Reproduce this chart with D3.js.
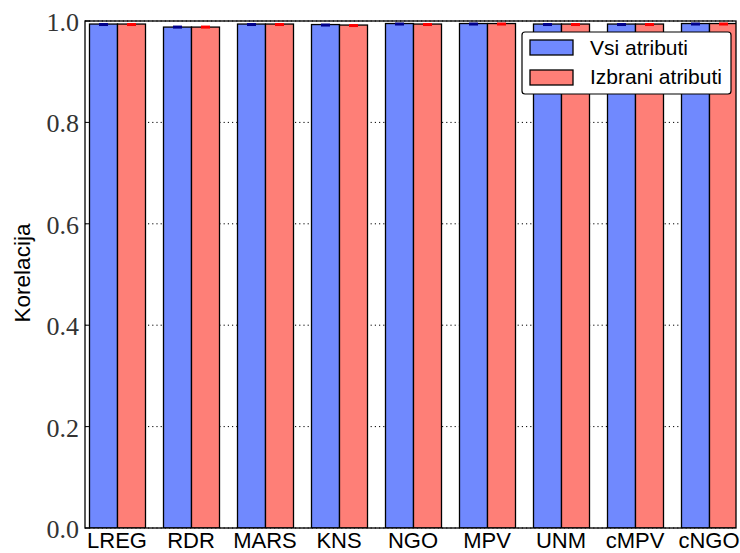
<!DOCTYPE html>
<html><head><meta charset="utf-8">
<script src="https://cdn.jsdelivr.net/npm/d3@7"></script>
<style>body{margin:0;background:#fff}</style>
</head><body><svg id="c" width="740" height="553"></svg>
<script>
const categories = ["LREG","RDR","MARS","KNS","NGO","MPV","UNM","cMPV","cNGO"];
const seriesNames = ["Vsi atributi","Izbrani atributi"];
const vsiValues = [0.994,0.988,0.994,0.993,0.995,0.995,0.994,0.994,0.995];
const izbValues = [0.994,0.988,0.994,0.992,0.994,0.995,0.994,0.994,0.995];
const vsiErr = [0.002,0.003,0.002,0.002,0.002,0.002,0.002,0.002,0.002];
const izbErr = [0.002,0.003,0.002,0.002,0.002,0.002,0.002,0.002,0.002];
const yTicks = [0.0,0.2,0.4,0.6,0.8,1.0];

const svg = d3.select("#c");
const L = 85, R = 736, T = 21, B = 528;
const y = d3.scaleLinear().domain([0,1]).range([B,T]);
const x = d3.scaleBand().domain(categories).range([89, 89+9*74-18]).paddingInner(18/74).paddingOuter(0);
const xs = d3.scaleBand().domain([0,1]).range([0, x.bandwidth()]);
const colors = ["#7089fe","#fe7f77"];
const errColors = ["#00008b","#ff0000"];

svg.append("defs").append("clipPath").attr("id","clip")
  .append("rect").attr("x",L).attr("y",T-5).attr("width",R-L).attr("height",B-T+5);

// grid
svg.append("g").selectAll("line").data(yTicks).join("line")
  .attr("x1",L).attr("x2",R).attr("y1",d=>y(d)).attr("y2",d=>y(d))
  .attr("stroke","#000").attr("stroke-width",1).attr("stroke-dasharray","1.2,3");

const data = categories.map((c,i)=>({c, vals:[vsiValues[i],izbValues[i]], errs:[vsiErr[i],izbErr[i]]}));
const g = svg.append("g").attr("clip-path","url(#clip)");
const grp = g.selectAll("g").data(data).join("g").attr("transform",d=>`translate(${x(d.c)},0)`);
grp.selectAll("rect.bar").data(d=>d.vals.map((v,k)=>({v,k,e:d.errs[k]}))).join("rect")
  .attr("class","bar")
  .attr("x",d=>xs(d.k)+0.5).attr("width",xs.bandwidth())
  .attr("y",d=>y(d.v)).attr("height",d=>y(0)-y(d.v))
  .attr("fill",d=>colors[d.k]).attr("stroke","#000").attr("stroke-width",1.3);
grp.selectAll("rect.err").data(d=>d.vals.map((v,k)=>({v,k,e:d.errs[k]}))).join("rect")
  .attr("class","err")
  .attr("x",d=>xs(d.k)+xs.bandwidth()/2-4.5+0.5).attr("width",9)
  .attr("y",d=>y(d.v+d.e)).attr("height",d=>Math.max(3,y(d.v-d.e)-y(d.v+d.e)))
  .attr("fill",d=>errColors[d.k]);

// frame
svg.append("rect").attr("x",L).attr("y",T).attr("width",R-L).attr("height",B-T)
  .attr("fill","none").attr("stroke","#000").attr("stroke-width",1.3);

// y ticks
const yt = svg.append("g");
yt.selectAll("line").data(yTicks).join("line")
  .attr("x1",L).attr("x2",L+5).attr("y1",d=>y(d)).attr("y2",d=>y(d)).attr("stroke","#000");
yt.selectAll("text").data(yTicks).join("text")
  .attr("x",79).attr("y",d=>y(d)+10).attr("text-anchor","end")
  .attr("font-family","Liberation Serif, serif").attr("font-size",26).attr("fill","#333")
  .text(d=>d.toFixed(1));

// x labels
svg.append("g").selectAll("text").data(categories).join("text")
  .attr("x",d=>x(d)+x.bandwidth()/2).attr("y",548).attr("text-anchor","middle")
  .attr("font-family","Liberation Sans, Arial, sans-serif").attr("font-size",22).attr("fill","#000")
  .text(d=>d);

// y label
svg.append("text").attr("transform","translate(30,273) rotate(-90)").attr("text-anchor","middle")
  .attr("font-family","Liberation Sans, Arial, sans-serif").attr("font-size",22.5).text("Korelacija");

// legend
const lg = svg.append("g");
lg.append("rect").attr("x",522).attr("y",32).attr("width",209).attr("height",62).attr("rx",3)
  .attr("fill","#fff").attr("stroke","#000").attr("stroke-width",1.2);
seriesNames.forEach((n,k)=>{
  lg.append("rect").attr("x",530).attr("y",40+k*30).attr("width",43).attr("height",15)
    .attr("fill",colors[k]).attr("stroke","#000").attr("stroke-width",1.3);
  lg.append("text").attr("x",590).attr("y",55+k*28.5)
    .attr("font-family","Liberation Sans, Arial, sans-serif").attr("font-size",21).text(n);
});
</script></body></html>
